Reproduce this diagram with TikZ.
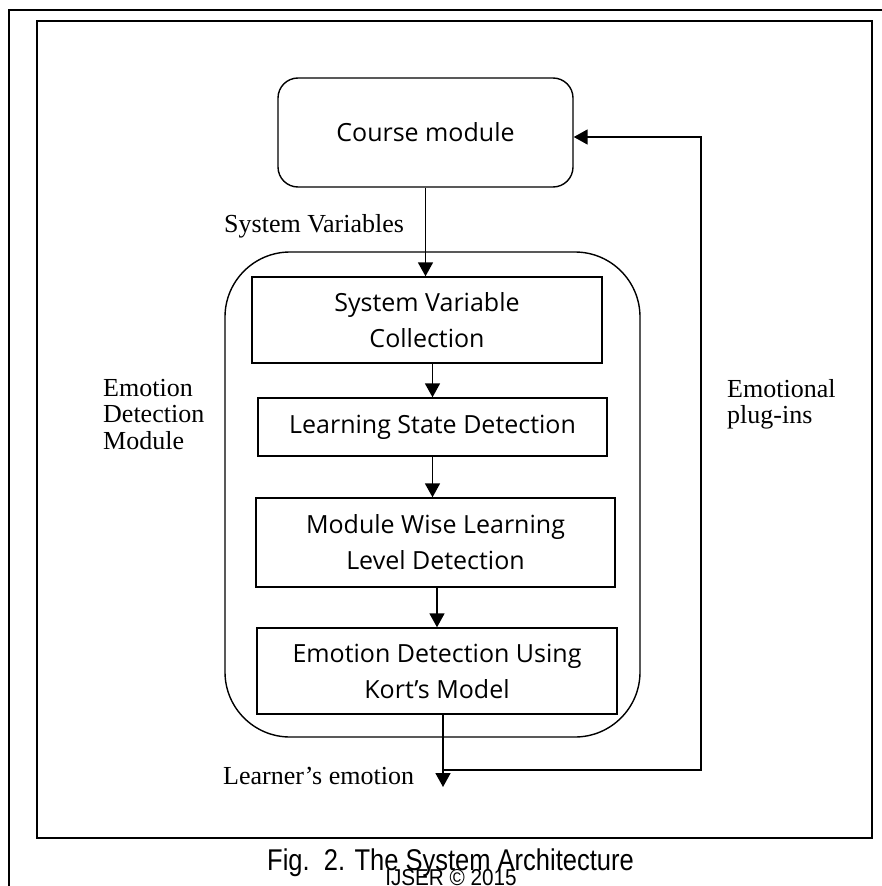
\documentclass[tikz,border=0pt]{standalone}
\usepackage{fontspec}
\usepackage{graphicx}
\setmainfont{Liberation Serif}
\newfontfamily\boxfont{Open Sans}
\newfontfamily\capfont{Liberation Sans}
\usetikzlibrary{arrows.meta}
\begin{document}
\begin{tikzpicture}[x=1pt,y=-1pt,
  frame/.style={line width=1.8pt},
  box/.style={draw,line width=1.4pt,align=center,inner sep=0pt,
    font=\boxfont\fontsize{25}{36}\selectfont},
  lbl/.style={inner sep=0pt,font=\fontsize{26}{26.5}\selectfont},
  arr/.style={line width=1.7pt,-{Triangle[length=14pt,width=15pt]}},
  capstyle/.style={inner sep=0pt,font=\capfont\fontsize{30}{30}\selectfont}]
\useasboundingbox (0,0) rectangle (882,886);
% frames
\draw[frame] (9,886) -- (9,10) -- (882,10);
\draw[frame] (37,21) rectangle (872,838);
% nodes
\node[box,rounded corners=20pt,minimum width=295pt,minimum height=109pt] (course) at (425.5,132.5) {Course module};
\node[draw,line width=1.4pt,rounded corners=65pt,minimum width=415pt,minimum height=485pt] (edm) at (432.5,494.5) {};
\node[box,minimum width=350pt,minimum height=86pt] (b1) at (427,320) {System Variable\\Collection};
\node[box,minimum width=349pt,minimum height=58pt] (b2) at (432.5,427) {Learning State Detection};
\node[box,minimum width=359pt,minimum height=89pt] (b3) at (435.5,542.5) {Module Wise Learning\\Level Detection};
\node[box,minimum width=360pt,minimum height=86pt] (b4) at (437,671) {Emotion Detection Using\\Kort’s Model};
% labels
\node[lbl,anchor=base west] (sv) at (224,232) {System Variables};
\node[lbl,anchor=base west] (le) at (223,784) {Learner’s emotion};
\node[lbl,anchor=base west] (edml) at (103,396) {\begin{tabular}[t]{@{}l@{}}Emotion\\Detection\\Module\end{tabular}};
\node[lbl,anchor=base west] (epl) at (727,397) {\begin{tabular}[t]{@{}l@{}}Emotional\\plug-ins\end{tabular}};
% caption
\node[capstyle,anchor=base] (cap) at (450.5,870) {\scalebox{0.85}[1]{Fig.\ \ 2. The System Architecture}};
\node[capstyle,anchor=base,font=\capfont\fontsize{23}{23}\selectfont] (ijser) at (451,885) {\scalebox{0.9}[1]{IJSER © 2015}};
% connectors
\coordinate (out) at (443,787);
\coordinate (j) at (443,770);
\coordinate (fr) at (701,770);
\coordinate (ft) at (701,137);
\draw[arr] (course.south) -- (course.south |- b1.north);
\draw[arr] (b1.south -| b2.north) -- (b2.north);
\draw[arr] (b2.south) -- (b2.south |- b3.north);
\draw[arr] (b3.south -| b4.north) -- (b4.north);
\draw[arr] (b4.south -| out) -- (out);
\draw[arr] (j) -- (fr) -- (ft) -- (course.east |- ft);
\end{tikzpicture}
\end{document}
